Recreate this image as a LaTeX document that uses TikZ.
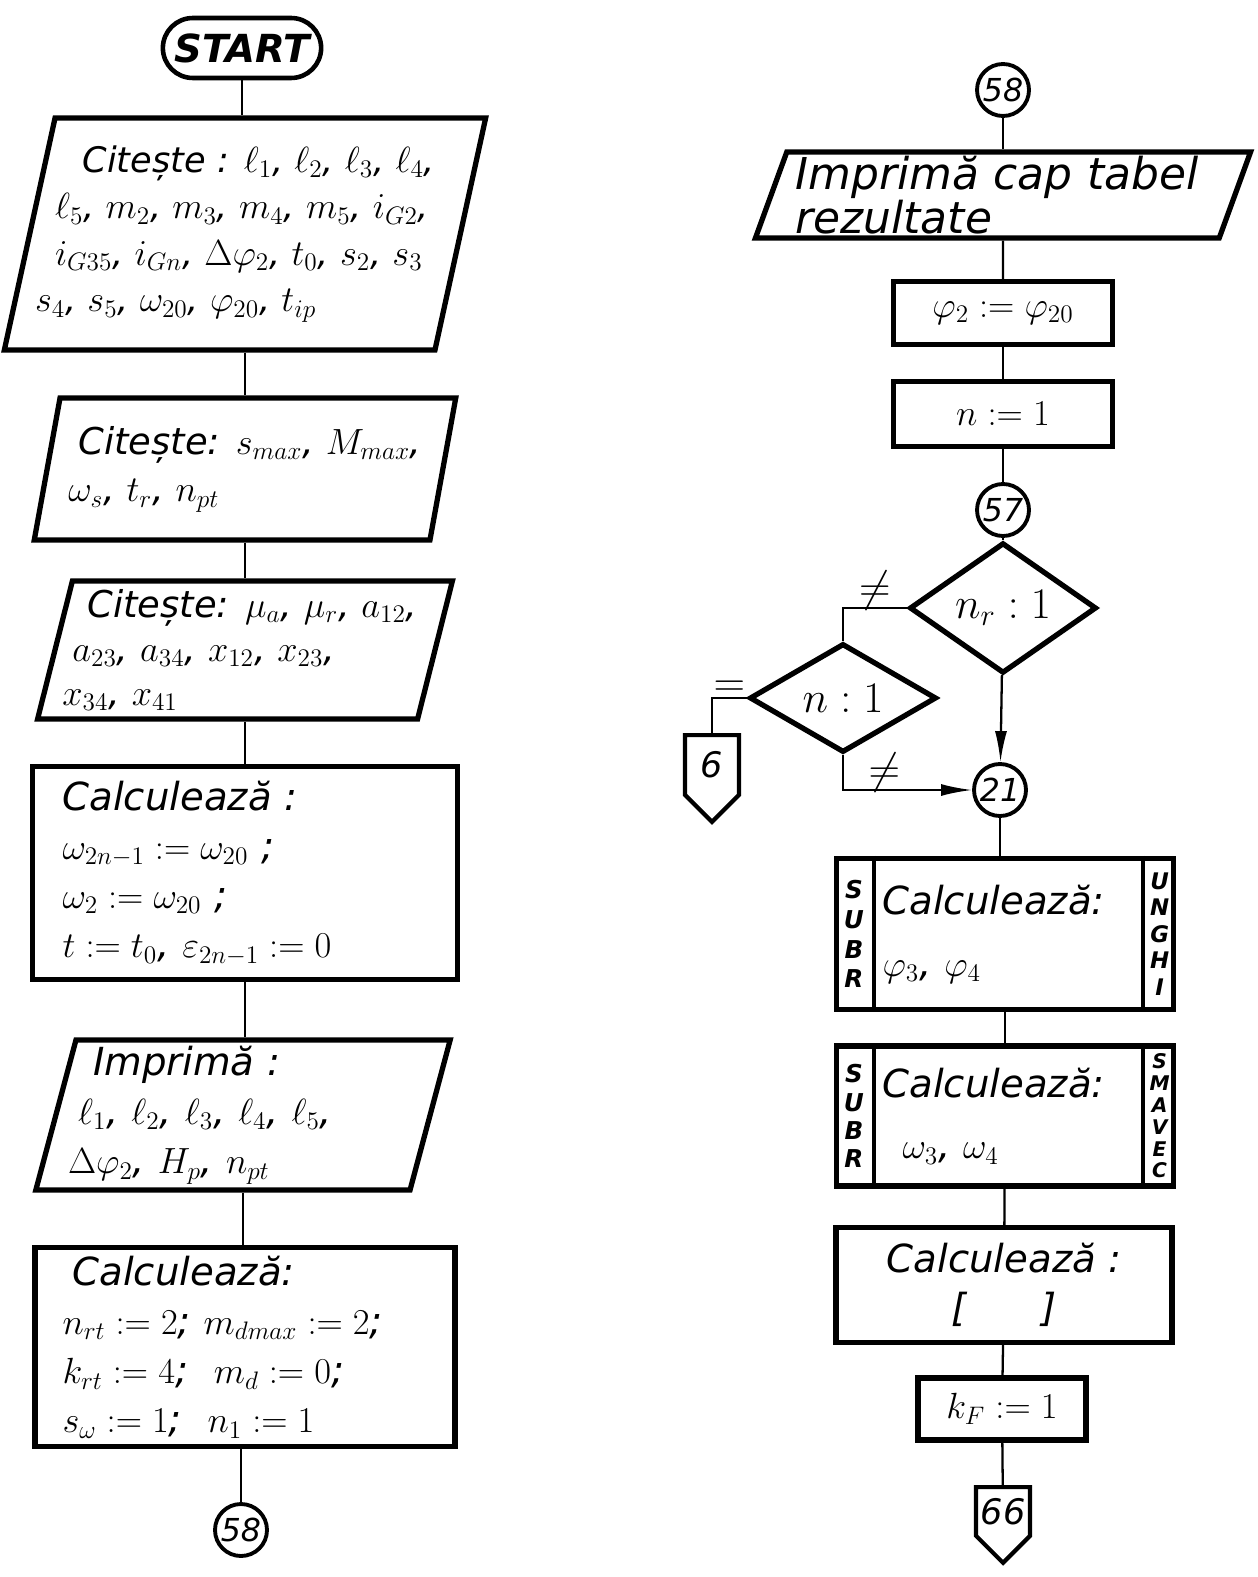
\documentclass[tikz,border=0pt]{standalone}
\usepackage{amsmath}
\usepackage{fontspec}
\setsansfont{DejaVu Sans}
\usetikzlibrary{arrows.meta,positioning,shapes.geometric,shapes.misc,shapes.symbols}
\tikzset{
  hand/.style={font=\fontsize{22}{28}\selectfont\sffamily\itshape},
  box/.style={draw, line width=3pt, rectangle, hand, align=left, inner sep=0pt},
  io/.style={draw, line width=3pt, trapezium, trapezium left angle=74, trapezium right angle=106,
    trapezium stretches=true, hand, align=left, inner sep=0pt},
  test/.style={draw, line width=3pt, diamond, inner sep=0pt, minimum width=3.74cm, minimum height=2.06cm,
    font=\fontsize{24}{24}\selectfont\sffamily\itshape},
  conn/.style={draw, circle, line width=2.2pt, inner sep=0pt, minimum size=1.04cm,
    font=\fontsize{18}{18}\selectfont\sffamily\itshape},
  offpg/.style={draw, line width=2.4pt, signal, signal to=south, signal pointer angle=90, inner sep=0pt,
    minimum width=1.08cm, minimum height=1.42cm, anchor=north, font=\fontsize{20}{20}\selectfont\sffamily\itshape},
  strip/.style={font=\fontsize{13}{15}\selectfont\sffamily\bfseries\itshape, align=center, inner sep=0pt},
  wire/.style={line width=1.3pt},
  flow/.style={wire, -{Latex[length=0.62cm,width=0.24cm]}},
  tag/.style={font=\fontsize{26}{26}\selectfont, inner sep=1pt}
}
\begin{document}
\begin{tikzpicture}[x=0.02cm,y=-0.02cm]
  \useasboundingbox (0,0) rectangle (1257,1577);
  % left column
  \node[draw, rounded rectangle, line width=2.6pt, minimum width=3.4cm, minimum height=1.2cm,
    font=\fontsize{22}{22}\selectfont\sffamily\bfseries\itshape] (start) at (242,48) {START};
  \node[io, font=\fontsize{20}{26.5}\selectfont\sffamily\itshape, minimum width=9.34cm, minimum height=4.64cm]
    (in1) at (245,234)
    {\hspace*{0.55cm}Citește : $\ell_1$, $\ell_2$, $\ell_3$, $\ell_4$,\\
     $\ell_5$, $m_2$, $m_3$, $m_4$, $m_5$, $i_{G2}$,\\
     $i_{G35}$, $i_{Gn}$, $\Delta\varphi_2$, $t_0$, $s_2$, $s_3$\\
     \hspace*{-0.4cm}$s_4$, $s_5$, $\omega_{20}$, $\varphi_{20}$, $t_{ip}$};
  \node[io, font=\fontsize{21}{27}\selectfont\sffamily\itshape, minimum width=8.46cm, minimum height=2.84cm]
    (in2) at (245,469)
    {\hspace*{0.2cm}Citește: $s_{max}$, $M_{max}$,\\ $\omega_s$, $t_r$, $n_{pt}$};
  \node[io, font=\fontsize{21}{25}\selectfont\sffamily\itshape, minimum width=8.28cm, minimum height=2.76cm]
    (in3) at (245,650)
    {\hspace*{0.3cm}Citește: $\mu_a$, $\mu_r$, $a_{12}$,\\ $a_{23}$, $a_{34}$, $x_{12}$, $x_{23}$,\\
     \hspace*{-0.2cm}$x_{34}$, $x_{41}$};
  \node[box, text width=7.3cm, minimum width=8.5cm, minimum height=4.26cm] (calc1) at (245,873)
    {Calculează :\\ $\omega_{2n-1} := \omega_{20}$ ;\\ $\omega_2 := \omega_{20}$ ;\\
     $t := t_0$, $\varepsilon_{2n-1} := 0$};
  \node[io, text width=6.6cm, minimum width=8.3cm, minimum height=3.0cm] (out1) at (243,1115)
    {\hspace*{0.3cm}Imprimă :\\ $\ell_1$, $\ell_2$, $\ell_3$, $\ell_4$, $\ell_5$,\\
     \hspace*{-0.2cm}$\Delta\varphi_2$, $H_p$, $n_{pt}$};
  \node[box, text width=7.3cm, minimum width=8.4cm, minimum height=3.98cm] (calc2) at (245,1347)
    {\hspace*{0.2cm}Calculează:\\ $n_{rt} := 2$; $m_{dmax} := 2$;\\ $k_{rt} := 4$; \ $m_d := 0$;\\
     $s_\omega := 1$; \ $n_1 := 1$};
  \node[conn] (c58a) at (241,1530) {58};
  \draw[wire] (start.south) -- (start.south |- in1.north);
  \draw[wire] (in1.south) -- (in1.south |- in2.north);
  \draw[wire] (in2.south) -- (in2.south |- in3.north);
  \draw[wire] (in3.south) -- (in3.south |- calc1.north);
  \draw[wire] (calc1.south) -- (calc1.south |- out1.north);
  \draw[wire] (out1.south) -- (out1.south |- calc2.north);
  \draw[wire] (c58a |- calc2.south) -- (c58a);
  % right column
  \node[conn] (c58b) at (1003,90) {58};
  \node[io, trapezium left angle=69, trapezium right angle=111, text width=8.3cm,
    font=\fontsize{25}{21}\selectfont\sffamily\itshape,
    minimum width=9.92cm, minimum height=1.72cm] (head) at (1003,195) {Imprimă cap tabel\\rezultate};
  \node[box, align=center, minimum width=4.38cm, minimum height=1.26cm] (phi) at (1003,313)
    {$\varphi_2 := \varphi_{20}$};
  \node[box, align=center, minimum width=4.38cm, minimum height=1.3cm] (nset) at (1003,414) {$n := 1$};
  \node[conn] (c57) at (1003,510) {57};
  \node[test] (d1) at (1003,608) {$n_r : 1$};
  \node[test] (d2) at (843,698) {$n : 1$};
  \node[offpg] (off6) at (712,733) {6};
  \node[conn] (c21) at (1000,790) {21};
  \node[box, text width=4.9cm, minimum width=6.74cm, minimum height=3.02cm] (sub1) at (1005,934)
    {Calculează:\\[0.25cm] $\varphi_3$, $\varphi_4$};
  \node[box, text width=4.9cm, minimum width=6.74cm, minimum height=2.8cm] (sub2) at (1005,1116)
    {Calculează:\\[0.25cm] \hspace*{0.4cm}$\omega_3$, $\omega_4$};
  \node[box, align=center, minimum width=6.72cm, minimum height=2.3cm] (calc3) at (1004,1285)
    {Calculează :\\ {[}\hspace{1.5cm}{]}};
  \node[box, align=center, minimum width=3.36cm, minimum height=1.24cm] (kf) at (1002,1409) {$k_F := 1$};
  \node[offpg] (off66) at (1003,1485) {66};
  % subroutine strips
  \draw[line width=2.6pt] ([xshift=0.8cm]sub1.north west) -- ([xshift=0.8cm]sub1.south west);
  \draw[line width=2.6pt] ([xshift=-0.66cm]sub1.north east) -- ([xshift=-0.66cm]sub1.south east);
  \draw[line width=2.6pt] ([xshift=0.8cm]sub2.north west) -- ([xshift=0.8cm]sub2.south west);
  \draw[line width=2.6pt] ([xshift=-0.66cm]sub2.north east) -- ([xshift=-0.66cm]sub2.south east);
  \node[strip, font=\fontsize{14}{17}\selectfont\sffamily\bfseries\itshape] (s1l) at ([xshift=0.4cm]sub1.west) {S\\U\\B\\R};
  \node[strip] (s1r) at ([xshift=-0.33cm]sub1.east) {U\\N\\G\\H\\I};
  \node[strip, font=\fontsize{14}{16}\selectfont\sffamily\bfseries\itshape] (s2l) at ([xshift=0.4cm]sub2.west) {S\\U\\B\\R};
  \node[strip, font=\fontsize{11.5}{12.4}\selectfont\sffamily\bfseries\itshape] (s2r) at ([xshift=-0.33cm]sub2.east) {S\\M\\A\\V\\E\\C};
  % connectors
  \draw[wire] (c58b) -- (c58b |- head.north);
  \draw[wire] (head.south) -- (phi);
  \draw[wire] (phi) -- (nset);
  \draw[wire] (nset) -- (c57);
  \draw[wire] (c57) -- (d1);
  \draw[wire] (d1.west) -| node[tag, pos=0.25, above=-3pt] (ne1) {$\neq$} (d2.north);
  \draw[wire] (d2.west) -| node[tag, pos=0.25, above=-1pt] (eq1) {$=$} (off6.north);
  \draw[flow] (d2.south) |- node[tag, pos=0.66, above=-3pt] (ne2) {$\neq$} (c21);
  \draw[flow] (d1) -- (c21);
  \draw[wire] (c21) -- (c21 |- sub1.north);
  \draw[wire] (sub1) -- (sub2);
  \draw[wire] (sub2) -- (calc3);
  \draw[wire] (calc3) -- (kf);
  \draw[wire] (kf) -- (off66);
\end{tikzpicture}
\end{document}
